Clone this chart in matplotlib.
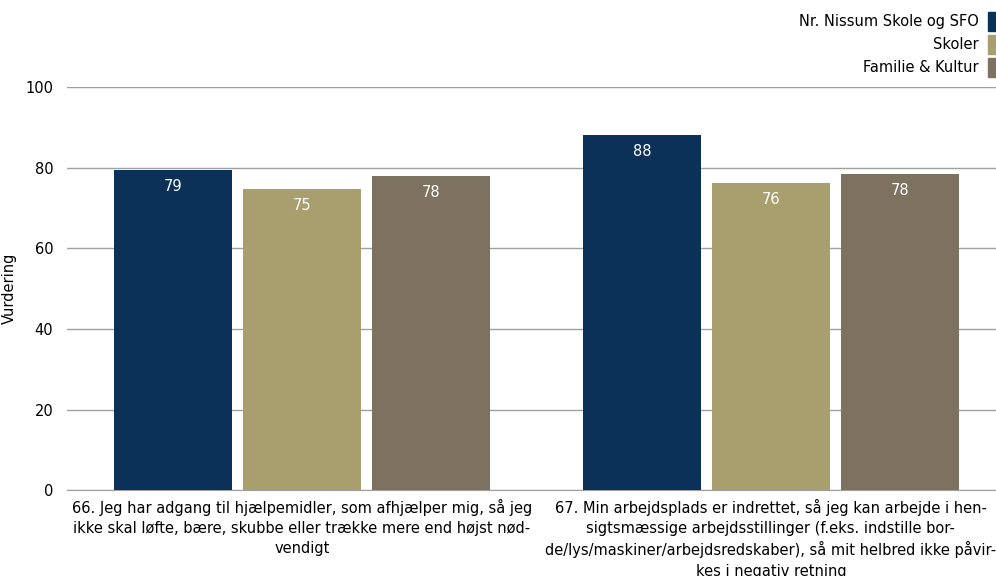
import matplotlib.pyplot as plt
from matplotlib.patches import Patch
import numpy as np

# data
categories = [
    "66. Jeg har adgang til hjælpemidler, som afhjælper mig, så jeg\n"
    "ikke skal løfte, bære, skubbe eller trække mere end højst nød-\n"
    "vendigt",
    "67. Min arbejdsplads er indrettet, så jeg kan arbejde i hen-\n"
    "sigtsmæssige arbejdsstillinger (f.eks. indstille bor-\n"
    "de/lys/maskiner/arbejdsredskaber), så mit helbred ikke påvir-\n"
    "kes i negativ retning",
]
series_names = ["Nr. Nissum Skole og SFO", "Skoler", "Familie & Kultur"]
nr_nissum = [79.4, 88.1]
skoler = [74.6, 76.2]
familie = [77.8, 78.4]
yticks = [0, 20, 40, 60, 80, 100]

colors = ["#0c3158", "#a89e6e", "#7d7160"]
fs = 10.5

fig = plt.figure(figsize=(9.96, 5.76), dpi=100)
ax = fig.add_axes([0.0673, 0.149, 0.9327, 0.70])

x = np.arange(len(categories))
w = 0.2516
step = 0.275
for i, (vals, c) in enumerate(zip([nr_nissum, skoler, familie], colors)):
    pos = x + (i - 1) * step
    ax.bar(pos, vals, width=w, color=c, zorder=3)
    for p, v in zip(pos, vals):
        ax.text(p, v - 2.2, "%d" % round(v), ha='center', va='top',
                color='white', fontsize=fs, zorder=4)

ax.set_ylim(0, 100)
ax.set_xlim(-0.501, 1.48)
ax.set_yticks(yticks)
ax.yaxis.grid(True, color='#a0a0a0', linewidth=1, zorder=0)
ax.tick_params(axis='y', length=0, labelsize=fs, pad=10)
ax.tick_params(axis='x', length=0, pad=6)
ax.set_xticks(x)
ax.set_xticklabels(categories, fontsize=fs, linespacing=1.42)
for s in ['top', 'right', 'left']:
    ax.spines[s].set_visible(False)
ax.spines['bottom'].set_color('#a0a0a0')
ax.set_ylabel("Vurdering", fontsize=fs)
ax.yaxis.set_label_coords(-0.054, 0.5)

handles = [Patch(color=c) for c in colors]
fig.legend(handles, series_names, loc='upper right', bbox_to_anchor=(1.012, 0.997),
           frameon=False, markerfirst=False, fontsize=fs, handlelength=0.7,
           handleheight=1.6, handletextpad=0.6, labelspacing=0.3, borderpad=0.2)

fig.savefig("out.png", dpi=100)
